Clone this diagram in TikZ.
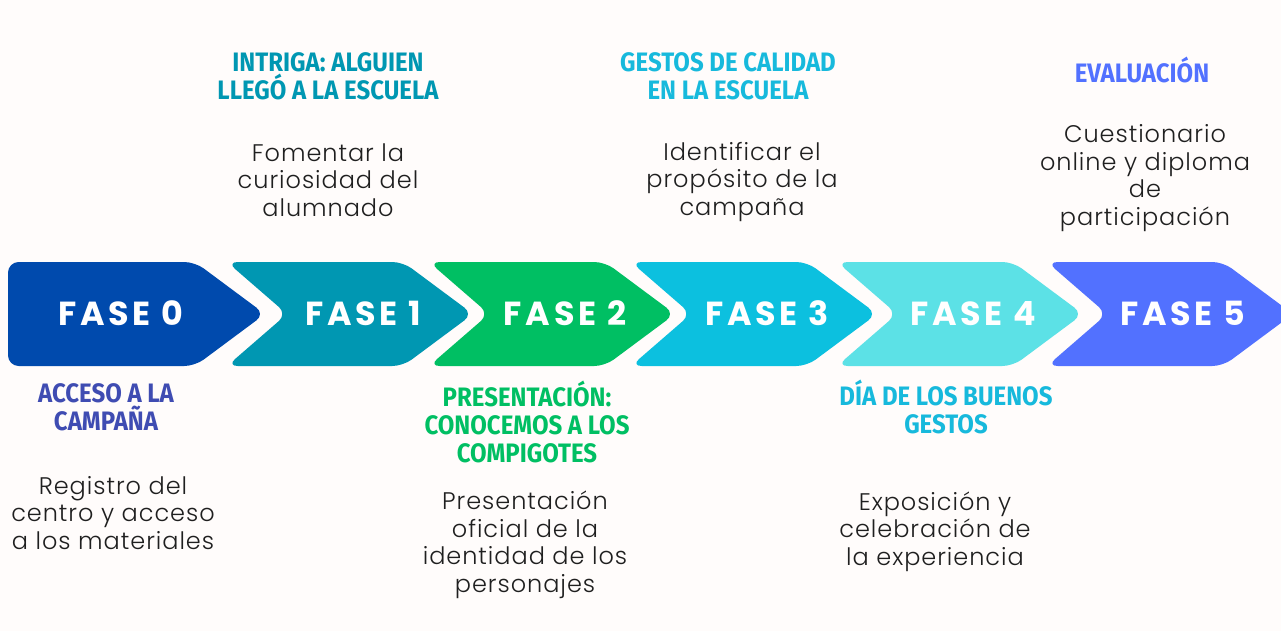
\documentclass[tikz,border=0pt]{standalone}
\usepackage{fontspec}
\setmainfont{Poppins Light}[LetterSpace=4]
\newfontfamily\headfont{Fira Sans}[FakeStretch=0.9]
\newfontfamily\fasefont{Poppins}[LetterSpace=11]
\definecolor{bgc}{HTML}{FFFCFB}
\definecolor{cz}{HTML}{004AAD}
\definecolor{ca}{HTML}{0097B2}
\definecolor{cb}{HTML}{00BF63}
\definecolor{cc}{HTML}{0CC0DF}
\definecolor{cd}{HTML}{5CE1E6}
\definecolor{ce}{HTML}{5271FF}
\definecolor{hz}{HTML}{3F4CB2}
\definecolor{hc}{HTML}{17B9DC}
\definecolor{bodyc}{HTML}{1F1F1F}
\tikzset{
  chev/.style={rounded corners=8pt},
  faselbl/.style={anchor=base, inner sep=0pt, text=white, font=\fasefont\bfseries\fontsize{25}{25}\selectfont},
  headtxt/.style={anchor=base, inner sep=0pt, align=center, font=\headfont\bfseries\fontsize{20}{21}\selectfont},
  bodytxt/.style={anchor=base, inner sep=0pt, align=center, text=bodyc, font=\fontsize{18}{20.6}\selectfont}
}
\begin{document}
\begin{tikzpicture}[x=0.75pt,y=-0.75pt]
\fill[bgc] (0,0) rectangle (1281,631);
\useasboundingbox (0,0) rectangle (1281,631);
\clip (0,0) rectangle (1281,631);
% chevrons
\fill[cz, chev] (8,262) -- (195,262) -- (265,314) -- (195,366) -- (8,366) -- cycle;
\node[faselbl] (f0) at (121,325) {FASE 0};
\foreach \L/\c/\n in {227/ca/1, 429/cb/2, 631/cc/3, 837/cd/4, 1047/ce/5}{
  \fill[\c, chev] (\L,262) -- ({\L+176},262) -- ({\L+246},314) -- ({\L+176},366) -- (\L,366) -- ({\L+60},314) -- cycle;
  \node[faselbl] (f\n) at ({\L+136},325) {FASE \n};
}
% headings (anchor base = last line)
\node[headtxt, text=hz] (h0) at (106,430) {ACCESO A LA\\CAMPAÑA};
\node[headtxt, text=ca] (h1) at (328,100) {INTRIGA: ALGUIEN\\LLEGÓ A LA ESCUELA};
\node[headtxt, text=cb] (h2) at (527,462) {PRESENTACIÓN:\\CONOCEMOS A LOS\\COMPIGOTES};
\node[headtxt, text=hc] (h3) at (728,100) {GESTOS DE CALIDAD\\EN LA ESCUELA};
\node[headtxt, text=hc] (h4) at (946,433) {DÍA DE LOS BUENOS\\GESTOS};
\node[headtxt, text=ce] (h5) at (1142,83) {EVALUACIÓN};
% bodies (anchor base = last line)
\node[bodytxt] (b0) at (113,549) {Registro del\\centro y acceso\\a los materiales};
\node[bodytxt] (b1) at (328,216) {Fomentar la\\curiosidad del\\alumnado};
\node[bodytxt] (b2) at (525,592) {Presentación\\oficial de la\\identidad de los\\personajes};
\node[bodytxt] (b3) at (742,215) {Identificar el\\propósito de la\\campaña};
\node[bodytxt] (b4) at (935,565) {Exposición y\\celebración de\\la experiencia};
\node[bodytxt] (b5) at (1145,225) {Cuestionario\\online y diploma\\de\\participación};
\end{tikzpicture}
\end{document}
